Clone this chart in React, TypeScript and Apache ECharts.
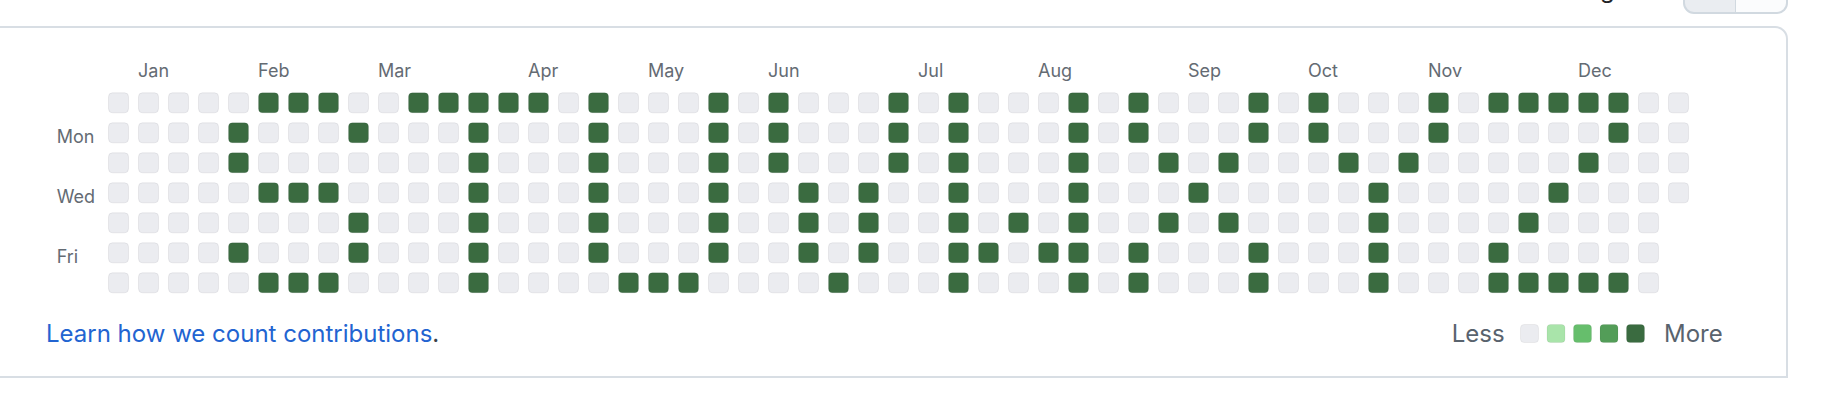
import React, { useEffect, useRef } from 'react';
import * as echarts from 'echarts';

// ---- data ----
const weekdayNames = ['Sun', 'Mon', 'Tue', 'Wed', 'Thu', 'Fri', 'Sat'];
const weekdayLabels = ['', 'Mon', '', 'Wed', '', 'Fri', ''];
const weekCount = 53;
const lastWeekDayCount = 4; // the final week runs Sun..Wed
const monthNames = ['Jan', 'Feb', 'Mar', 'Apr', 'May', 'Jun', 'Jul', 'Aug', 'Sep', 'Oct', 'Nov', 'Dec'];
const monthStartWeeks = [1, 5, 9, 14, 18, 22, 27, 31, 36, 40, 44, 49];

// weeks (column index) with contributions, per weekday row
const sunActiveWeeks = [5, 6, 7, 10, 11, 12, 13, 14, 16, 20, 22, 26, 28, 32, 34, 38, 40, 44, 46, 47, 48, 49, 50];
const monActiveWeeks = [4, 8, 12, 16, 20, 22, 26, 28, 32, 34, 38, 40, 44, 50];
const tueActiveWeeks = [4, 12, 16, 20, 22, 26, 28, 32, 35, 37, 41, 43, 49];
const wedActiveWeeks = [5, 6, 7, 12, 16, 20, 23, 25, 28, 32, 36, 42, 48];
const thuActiveWeeks = [8, 12, 16, 20, 23, 25, 28, 30, 32, 35, 37, 42, 47];
const friActiveWeeks = [4, 8, 12, 16, 20, 23, 25, 28, 29, 31, 32, 34, 38, 42, 46];
const satActiveWeeks = [5, 6, 7, 12, 17, 18, 19, 24, 28, 32, 34, 38, 42, 46, 47, 48, 49, 50];
const activeLevel = 4;
const emptyLevel = 0;

const levels = [0, 1, 2, 3, 4];
const levelColors = ['#ebecf0', '#a9e4aa', '#66be6c', '#539d58', '#3a6b40'];
const legendLowText = 'Less';
const legendHighText = 'More';
const footerLinkText = 'Learn how we count contributions';

const FONT = 'Inter, "Liberation Sans", Arial, sans-serif';

function buildCells(): number[][] {
  const rows = [sunActiveWeeks, monActiveWeeks, tueActiveWeeks, wedActiveWeeks, thuActiveWeeks, friActiveWeeks, satActiveWeeks];
  const cells: number[][] = [];
  for (let w = 0; w < weekCount; w++) {
    for (let d = 0; d < 7; d++) {
      if (w === weekCount - 1 && d >= lastWeekDayCount) continue;
      cells.push([w, d, rows[d].includes(w) ? activeLevel : emptyLevel]);
    }
  }
  return cells;
}

export default function App() {
  const ref = useRef<HTMLDivElement>(null);

  useEffect(() => {
    if (!ref.current) return;
    const chart = echarts.init(ref.current, undefined, { renderer: 'svg' });
    const weeks = Array.from({ length: weekCount }, (_, i) => String(i));

    // legend ("Less ▢▢▢▢▢ More") layout
    const legendTop = 324;
    const legendSize = 19;
    const legendStartX = 1520;
    const legendStep = 26.5;
    const legendGraphics: any[] = [
      {
        type: 'text',
        style: { x: 1451.7, y: 333.5, text: legendLowText, fill: '#59636e', font: `24px ${FONT}`, verticalAlign: 'middle' },
        silent: true,
      },
      ...levels.map((_lv, i) => ({
        type: 'rect',
        shape: { x: legendStartX + i * legendStep + 0.5, y: legendTop + 0.5, width: legendSize - 1, height: legendSize - 1, r: 3.5 },
        style: { fill: levelColors[i], stroke: 'rgba(31,35,40,0.06)', lineWidth: 1 },
        silent: true,
      })),
      {
        type: 'text',
        style: { x: 1664, y: 333.5, text: legendHighText, fill: '#59636e', font: `24px ${FONT}`, verticalAlign: 'middle' },
        silent: true,
      },
    ];

    const option: any = {
      animation: false,
      backgroundColor: '#ffffff',
      grid: { left: 103.5, top: 87.8, width: 1590, height: 210 },
      xAxis: {
        type: 'category',
        data: weeks,
        boundaryGap: true,
        show: false,
      },
      yAxis: {
        type: 'category',
        data: weekdayNames,
        inverse: true,
        boundaryGap: true,
        axisLine: { show: false },
        axisTick: { show: false },
        splitLine: { show: false },
        axisLabel: {
          interval: 0,
          formatter: (_v: string, i: number) => (weekdayLabels[i] ? `{d|${weekdayLabels[i]}}` : ''),
          align: 'left',
          margin: 46.8,
          rich: {
            d: { color: '#646b73', fontSize: 18, fontFamily: FONT, padding: [8, 0, 0, 0] },
          },
        },
      },
      visualMap: {
        type: 'piecewise',
        show: false,
        seriesIndex: 0,
        dimension: 2,
        pieces: levels.map((v, i) => ({ value: v, color: levelColors[i] })),
      },
      series: [
        {
          type: 'custom',
          name: 'contributions',
          data: buildCells(),
          encode: { x: 0, y: 1 },
          renderItem: (_params: any, api: any) => {
            const p = api.coord([api.value(0), api.value(1)]);
            return {
              type: 'rect',
              shape: { x: p[0] - 10, y: p[1] - 10, width: 20, height: 20, r: 4 },
              style: { fill: api.visual('color'), stroke: 'rgba(31,35,40,0.07)', lineWidth: 1 },
            };
          },
        },
        {
          type: 'custom',
          name: 'months',
          data: monthStartWeeks.map((w, i) => [w, 0, i]),
          encode: { x: 0, y: 1 },
          silent: true,
          renderItem: (_params: any, api: any) => {
            const p = api.coord([api.value(0), api.value(1)]);
            return {
              type: 'text',
              style: {
                x: p[0] - 10.5,
                y: p[1] - 32.8,
                text: monthNames[api.value(2)],
                fill: '#646b73',
                font: `18px ${FONT}`,
                align: 'left',
                verticalAlign: 'middle',
              },
            };
          },
        },
      ],
      graphic: [
        {
          type: 'rect',
          shape: { x: -10, y: 27, width: 1797, height: 350, r: [0, 12, 0, 0] },
          style: { fill: 'none', stroke: '#d8dee4', lineWidth: 2 },
          silent: true,
        },
        {
          type: 'rect',
          shape: { x: 1684, y: -20, width: 51, height: 33, r: [0, 0, 0, 10] },
          style: { fill: '#eaedf1' },
          silent: true,
        },
        {
          type: 'rect',
          shape: { x: 1735, y: -20, width: 52, height: 33, r: [0, 0, 10, 0] },
          style: { fill: '#fbfcfd' },
          silent: true,
        },
        {
          type: 'rect',
          shape: { x: 1684, y: -20, width: 103, height: 33, r: 10 },
          style: { fill: 'none', stroke: '#d1d9e0', lineWidth: 2 },
          silent: true,
        },
        {
          type: 'line',
          shape: { x1: 1735.5, y1: -20, x2: 1735.5, y2: 13 },
          style: { stroke: '#d1d9e0', lineWidth: 1 },
          silent: true,
        },
        {
          type: 'text',
          style: { x: 1600, y: -11, text: 'g', fill: '#1f2328', font: `24px ${FONT}`, verticalAlign: 'middle' },
          silent: true,
        },
        {
          type: 'text',
          style: {
            x: 46,
            y: 333.5,
            text: `{a|${footerLinkText}}{b|.}`,
            verticalAlign: 'middle',
            font: `24px ${FONT}`,
            rich: {
              a: { fill: '#2264d1', fontSize: 24, fontFamily: FONT },
              b: { fill: '#3b4048', fontSize: 24, fontFamily: FONT },
            },
          },
          silent: true,
        },
        ...legendGraphics,
      ],
    };

    chart.setOption(option);
    return () => chart.dispose();
  }, []);

  return (
    <div
      ref={ref}
      style={{ position: 'fixed', left: 0, top: 0, width: 1848, height: 416, background: '#ffffff' }}
    />
  );
}
